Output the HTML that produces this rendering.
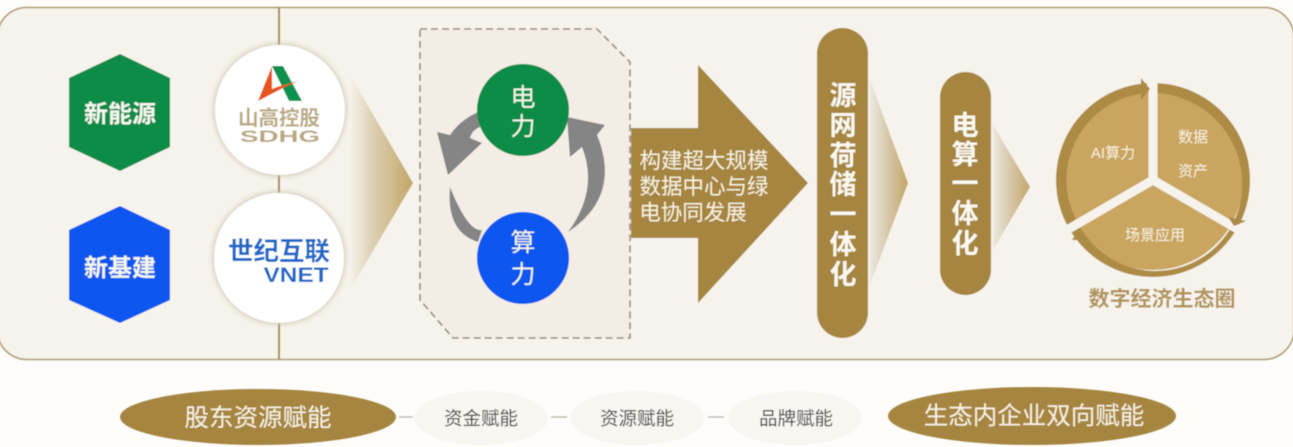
<!DOCTYPE html>
<html><head><meta charset="utf-8"><style>
html,body{margin:0;padding:0;background:#fefdfb;width:1293px;height:447px;overflow:hidden}
svg{display:block}
text{font-family:"Liberation Sans","Noto Sans CJK SC",sans-serif;text-anchor:middle}
</style></head><body>
<svg width="1293" height="447" viewBox="0 0 1293 447" xmlns="http://www.w3.org/2000/svg">
<defs>
<linearGradient id="g1" x1="0" x2="1" y1="0" y2="0"><stop offset="0" stop-color="#f6f3ec"/><stop offset="0.35" stop-color="#ddd0b4"/><stop offset="1" stop-color="#c3a566"/></linearGradient>
<linearGradient id="g2" x1="0" x2="1" y1="0" y2="0"><stop offset="0" stop-color="#ece8df"/><stop offset="0.4" stop-color="#d8ccb2"/><stop offset="1" stop-color="#c3a566"/></linearGradient>
<filter id="sh" x="-20%" y="-20%" width="140%" height="140%"><feGaussianBlur stdDeviation="3"/></filter>
<filter id="b" x="-5%" y="-5%" width="110%" height="110%"><feGaussianBlur stdDeviation="0.45"/></filter>
</defs>
<g filter="url(#b)">
<rect x="-3" y="7.5" width="1297" height="352" rx="30" fill="#f6f3ec" stroke="#ae9a70" stroke-width="1.6"/>
<rect x="278" y="8" width="2" height="351" fill="#a5853f"/>

<polygon points="120,54 170,78 170,147 120,171 69,147 69,78" fill="#0f8c46"/>
<polygon points="120,206 170,230 170,300 120,323 69,300 69,230" fill="#0a56ef"/>
<text x="120" y="122" font-size="24" font-weight="700" fill="#f4f7ef">新能源</text>
<text x="120" y="276" font-size="24" font-weight="700" fill="#f4f7ef">新基建</text>

<polygon points="350,75 413,183 350,290" fill="url(#g1)"/>

<circle cx="280" cy="110" r="66" fill="#cfc6b2" filter="url(#sh)"/>
<circle cx="279" cy="258" r="66" fill="#cfc6b2" filter="url(#sh)"/>
<circle cx="280" cy="110" r="65" fill="#fff"/>
<circle cx="279" cy="258" r="65" fill="#fff"/>

<polygon points="272,66 283,66 302,101 289,101" fill="#0f9150"/>
<polygon points="272,66 258,101 283,88 298,81 277,87 272,89" fill="#e8521c"/>
<text x="279" y="125" font-size="20.5" font-weight="700" fill="#b9a77f" textLength="82" lengthAdjust="spacingAndGlyphs">山高控股</text>
<text x="280" y="142" font-size="16.5" font-weight="700" fill="#b9a77f" textLength="80" lengthAdjust="spacingAndGlyphs">SDHG</text>
<text x="279" y="260" font-size="25.5" font-weight="700" fill="#1c68c8" textLength="102" lengthAdjust="spacingAndGlyphs">世纪互联</text>
<text x="296" y="282" font-size="21" font-weight="700" fill="#1c68c8" textLength="65" lengthAdjust="spacingAndGlyphs">VNET</text>

<polygon points="420,29 597,29 630,62 630,338 453,338 420,300" fill="#f4ede6" stroke="#8f897c" stroke-width="1.6" stroke-dasharray="7 4"/>

<path d="M478,112 Q460,120 450,135 L437,132 L448,175 L482,143 L470,138 Q472,130 480,127 Z" fill="#858585"/>
<path d="M450,187 Q468,232 482,230 L478,242 Q446,232 450,187 Z" fill="#858585"/>
<path d="M568,232 Q599,190 582,147 L570,157 L567,117 L605,125 L597,135 Q622,196 568,232 Z" fill="#858585"/>

<circle cx="523" cy="110" r="46" fill="#0f8c46"/>
<circle cx="523" cy="258" r="46" fill="#0a56ef"/>
<text x="523" y="106" font-size="25" fill="#f2f5e8">电</text>
<text x="523" y="135" font-size="25" fill="#f2f5e8">力</text>
<text x="523" y="251" font-size="25" fill="#f2f5e8">算</text>
<text x="523" y="283" font-size="25" fill="#f2f5e8">力</text>

<polygon points="631,128 698,128 698,65 808,183 698,303 698,238 631,238" fill="#a5853f"/>
<g font-size="21.5" fill="#f7f1de">
<text x="704" y="168">构建超大规模</text>
<text x="704" y="194">数据中心与绿</text>
<text x="693" y="220">电协同发展</text>
</g>

<polygon points="870,80 908,183 870,285" fill="url(#g2)"/>
<polygon points="993,125 1030,187 993,250" fill="url(#g2)"/>

<rect x="817" y="28" width="51" height="310" rx="25.5" fill="#a5853f"/>
<rect x="940" y="72" width="51" height="223" rx="25.5" fill="#a5853f"/>
<g font-size="27" font-weight="700" fill="#fbf8f0">
<text x="843" y="105">源</text>
<text x="843" y="135">网</text>
<text x="843" y="165">荷</text>
<text x="843" y="194">储</text>
<text x="843" y="224">一</text>
<text x="843" y="254">体</text>
<text x="843" y="284">化</text>
<text x="965" y="135">电</text>
<text x="965" y="164">算</text>
<text x="965" y="193">一</text>
<text x="965" y="223">体</text>
<text x="965" y="253">化</text>
</g>

<circle cx="1153" cy="180" r="90" fill="#c9a55f"/>
<path d="M1147,83.2 A97,97 0 0 0 1069,228.5 L1078,223.3 A87,87 0 0 1 1147,93.2 Z" fill="#ad8b45"/>
<path d="M1157,83.1 A97,97 0 0 1 1237,228.5 L1232,225.6 A91,91 0 0 0 1157,93 Z" fill="#ad8b45"/>
<path d="M1237,228.5 A97,97 0 0 1 1069,228.5 L1078,223.3 A87,87 0 0 0 1232,225.6 Z" fill="#ad8b45"/>
<path d="M1153,180 L1153,70 M1153,180 L1060,234 M1153,180 L1246,234" stroke="#f6f3ec" stroke-width="9" fill="none"/>
<polygon points="1141,78 1150,89 1141,100" fill="#ad8b45"/>
<polygon points="1228,217 1246,221 1234,226" fill="#ad8b45"/>
<polygon points="1072,240 1078,230 1087,240" fill="#ad8b45"/>
<g font-size="15" fill="#f8f1de">
<text x="1113" y="158">AI算力</text>
<text x="1193" y="142">数据</text>
<text x="1193" y="176">资产</text>
<text x="1155" y="240">场景应用</text>
</g>
<text x="1162" y="306" font-size="21" font-weight="700" fill="#b0935a">数字经济生态圈</text>

<ellipse cx="258" cy="417" rx="138" ry="28" fill="#a5853f"/>
<ellipse cx="1032" cy="416" rx="144" ry="29" fill="#a5853f"/>
<ellipse cx="481" cy="418" rx="67" ry="27" fill="#f8f6f1"/>
<ellipse cx="637" cy="418" rx="67" ry="27" fill="#f8f6f1"/>
<ellipse cx="795" cy="418" rx="67" ry="27" fill="#f8f6f1"/>
<path d="M399,417 H413 M551,417 H567 M708,417 H724" stroke="#b8b2a6" stroke-width="1.2"/>
<text x="258" y="426" font-size="24.5" fill="#f8f2e2">股东资源赋能</text>
<text x="1034" y="424" font-size="24.5" fill="#f8f2e2">生态内企业双向赋能</text>
<g font-size="18.5" fill="#3a3a38">
<text x="481" y="425">资金赋能</text>
<text x="637" y="425">资源赋能</text>
<text x="796" y="425">品牌赋能</text>
</g>
</g>
</svg>
</body></html>
